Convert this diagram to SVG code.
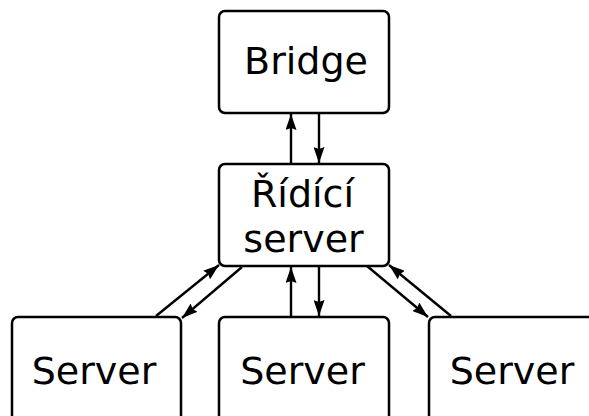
<svg xmlns="http://www.w3.org/2000/svg" width="589" height="416" viewBox="0 0 589 416">
  <style>
    .box { fill: #ffffff; stroke: #000000; stroke-width: 2.5; }
    .label { font-family: "DejaVu Sans", sans-serif; font-size: 38px; fill: #000000; text-anchor: middle; }
    .link { fill: none; stroke: #000000; stroke-width: 2.4; }
  </style>
  <defs>
    <marker id="arrow" viewBox="0 0 16 11" refX="16" refY="5.5" markerWidth="16" markerHeight="11" markerUnits="userSpaceOnUse" orient="auto">
      <path d="M0,0 L16,5.5 L0,11 L2,5.5 Z" fill="#000000"/>
    </marker>
  </defs>
  <rect width="589" height="416" fill="#ffffff"/>

  <g id="bridge">
    <rect class="box" x="219" y="11" width="170" height="102" rx="6"/>
    <text class="label" x="306" y="74">Bridge</text>
  </g>

  <g id="control-server">
    <rect class="box" x="219" y="164" width="170" height="102" rx="6"/>
    <text class="label" x="302.5" y="207">Řídící</text>
    <text class="label" x="303.5" y="252">server</text>
  </g>

  <g id="server-left">
    <rect class="box" x="12" y="317" width="169" height="120" rx="6"/>
    <text class="label" x="94" y="384">Server</text>
  </g>

  <g id="server-middle">
    <rect class="box" x="219" y="317" width="170" height="120" rx="6"/>
    <text class="label" x="302.5" y="384">Server</text>
  </g>

  <g id="server-right">
    <rect class="box" x="429" y="317" width="170" height="120" rx="6"/>
    <text class="label" x="512" y="384">Server</text>
  </g>

  <g id="connectors">
    <!-- bridge <-> control server -->
    <line class="link" x1="291" y1="164" x2="291" y2="114" marker-end="url(#arrow)"/>
    <line class="link" x1="319" y1="113" x2="319" y2="163" marker-end="url(#arrow)"/>
    <!-- control server <-> middle server -->
    <line class="link" x1="291" y1="317" x2="291" y2="267" marker-end="url(#arrow)"/>
    <line class="link" x1="319" y1="266" x2="319" y2="316" marker-end="url(#arrow)"/>
    <!-- control server <-> left server -->
    <line class="link" x1="156" y1="316" x2="219" y2="265" marker-end="url(#arrow)"/>
    <line class="link" x1="242" y1="267" x2="182" y2="318" marker-end="url(#arrow)"/>
    <!-- control server <-> right server -->
    <line class="link" x1="367" y1="266" x2="428" y2="317" marker-end="url(#arrow)"/>
    <line class="link" x1="451" y1="316" x2="389" y2="265" marker-end="url(#arrow)"/>
  </g>
</svg>
